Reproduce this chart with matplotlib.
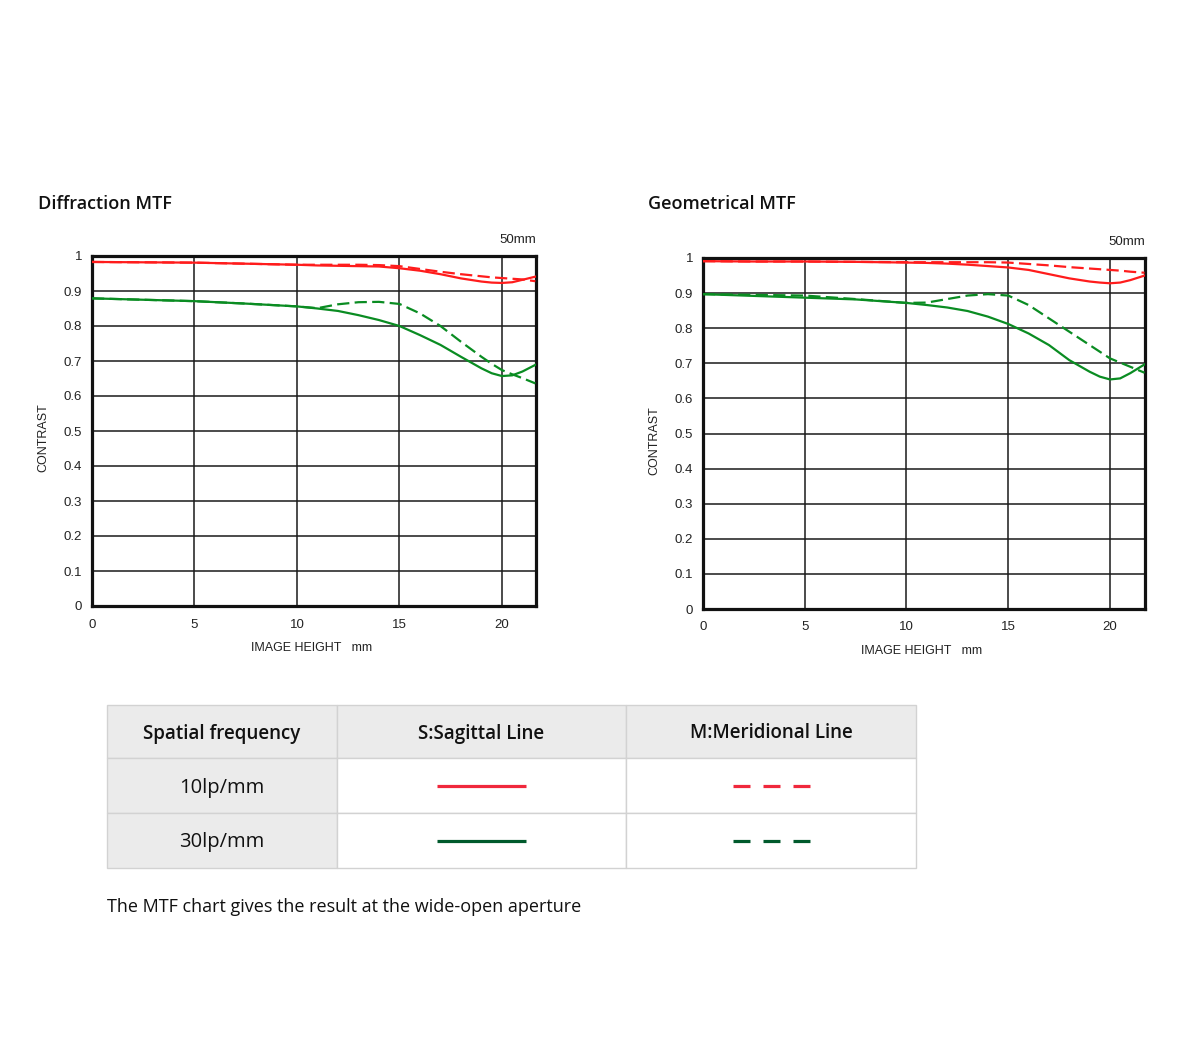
import numpy as np
import matplotlib.pyplot as plt
from matplotlib.patches import Rectangle

# image height (mm) at which the curves were read
diff_x = [0, 2.5, 5, 7.5, 10, 11, 12, 13, 14, 15, 16, 17, 18, 19, 19.5, 20, 20.5, 21, 21.63]
diff_s10 = [0.983, 0.982, 0.981, 0.978, 0.975, 0.973, 0.972, 0.971, 0.970, 0.965, 0.958, 0.948, 0.936, 0.927, 0.924, 0.923, 0.925, 0.932, 0.941]
diff_m10 = [0.983, 0.982, 0.981, 0.978, 0.975, 0.975, 0.975, 0.975, 0.974, 0.971, 0.963, 0.955, 0.948, 0.942, 0.939, 0.937, 0.935, 0.933, 0.928]
diff_s30 = [0.879, 0.875, 0.871, 0.864, 0.856, 0.850, 0.843, 0.831, 0.817, 0.800, 0.774, 0.746, 0.712, 0.679, 0.665, 0.657, 0.659, 0.670, 0.689]
diff_m30 = [0.879, 0.875, 0.871, 0.864, 0.856, 0.851, 0.862, 0.868, 0.869, 0.863, 0.836, 0.800, 0.755, 0.712, 0.692, 0.674, 0.662, 0.651, 0.636]

geo_x = [0, 2.5, 5, 7.5, 10, 11, 12, 13, 14, 15, 16, 17, 18, 19, 19.5, 20, 20.5, 21, 21.7]
geo_s10 = [0.991, 0.990, 0.990, 0.989, 0.987, 0.986, 0.984, 0.981, 0.977, 0.973, 0.966, 0.954, 0.942, 0.933, 0.930, 0.928, 0.930, 0.937, 0.950]
geo_m10 = [0.991, 0.990, 0.990, 0.989, 0.988, 0.988, 0.988, 0.988, 0.988, 0.987, 0.983, 0.979, 0.974, 0.970, 0.968, 0.966, 0.964, 0.961, 0.958]
geo_s30 = [0.897, 0.892, 0.887, 0.882, 0.872, 0.866, 0.859, 0.849, 0.833, 0.812, 0.785, 0.752, 0.709, 0.676, 0.662, 0.654, 0.657, 0.672, 0.697]
geo_m30 = [0.897, 0.895, 0.893, 0.883, 0.872, 0.873, 0.883, 0.893, 0.897, 0.893, 0.866, 0.828, 0.790, 0.752, 0.733, 0.714, 0.702, 0.690, 0.673]

y_ticks = [0, 0.1, 0.2, 0.3, 0.4, 0.5, 0.6, 0.7, 0.8, 0.9, 1]
y_labels = ['0', '0.1', '0.2', '0.3', '0.4', '0.5', '0.6', '0.7', '0.8', '0.9', '1']
x_ticks = [0, 5, 10, 15, 20]

table_header = ['Spatial frequency', 'S:Sagittal Line', 'M:Meridional Line']
table_rows = ['10lp/mm', '30lp/mm']
caption = 'The MTF chart gives the result at the wide-open aperture'

RED = '#ff1c1c'
GREEN = '#0a8c22'
W, H = 1200, 1051

fig = plt.figure(figsize=(12, 10.51), dpi=100)
# background axes in pixel coordinates for titles and the legend table
bg = fig.add_axes([0, 0, 1, 1])
bg.set_xlim(0, W)
bg.set_ylim(H, 0)
bg.axis('off')

TXT = 'Open Sans'
LBL = 'Liberation Sans'


def mtf_panel(rect, title_xy, title, xs, s10, m10, s30, m30, xmax):
    l, t, r, b = rect
    ax = fig.add_axes([l / W, 1 - b / H, (r - l) / W, (b - t) / H])
    ax.plot(xs, s10, color=RED, lw=1.6, zorder=3)
    ax.plot(xs, m10, color=RED, lw=1.6, dashes=(5.5, 2.4), zorder=3)
    ax.plot(xs, s30, color=GREEN, lw=1.6, zorder=3)
    ax.plot(xs, m30, color=GREEN, lw=1.6, dashes=(5.5, 2.4), zorder=3)
    ax.set_xlim(0, xmax)
    ax.set_ylim(0, 1)
    ax.set_xticks(x_ticks)
    ax.set_yticks(y_ticks)
    ax.set_yticklabels(y_labels)
    ax.tick_params(length=0, labelsize=9.5, colors='#222222')
    ax.tick_params(axis='y', pad=7)
    ax.tick_params(axis='x', pad=9)
    for lab in ax.get_xticklabels() + ax.get_yticklabels():
        lab.set_fontfamily(LBL)
    ax.grid(True, color='#1a1a1a', lw=1.1)
    for sp in ax.spines.values():
        sp.set_linewidth(2.3)
        sp.set_color('#111111')
    bg.text(title_xy[0], title_xy[1], title, fontsize=13, fontfamily=TXT,
            fontweight='semibold', va='center', ha='left', color='#111111')
    bg.text(r, t - 16, '50mm', fontsize=9.5, fontfamily=LBL, ha='right', va='center', color='#222222')
    bg.text(l - 49, (t + b) / 2 + 7, 'CONTRAST', fontsize=9, fontfamily=LBL, rotation=90,
            ha='center', va='center', color='#222222')
    bg.text((l + r) / 2 - 2, b + 42, 'IMAGE HEIGHT   mm', fontsize=9, fontfamily=LBL,
            ha='center', va='center', color='#222222')
    return ax


mtf_panel((92, 256, 536, 606), (38, 204), 'Diffraction MTF',
          diff_x, diff_s10, diff_m10, diff_s30, diff_m30, 21.66)
mtf_panel((703, 258, 1145, 609), (648, 204), 'Geometrical MTF',
          geo_x, geo_s10, geo_m10, geo_s30, geo_m30, 21.72)

# legend table
col_x = [107, 337, 626, 916]
row_y = [705, 758, 813, 868]
for i in range(3):
    for j in range(3):
        fill = '#ebebeb' if (i == 0 or j == 0) else 'white'
        bg.add_patch(Rectangle((col_x[j], row_y[i]), col_x[j + 1] - col_x[j], row_y[i + 1] - row_y[i],
                               facecolor=fill, edgecolor='#d2d2d2', lw=1))
for j, h in enumerate(table_header):
    bg.text((col_x[j] + col_x[j + 1]) / 2, (row_y[0] + row_y[1]) / 2 + 2, h, fontsize=13.5,
            fontfamily=TXT, fontweight='semibold', ha='center', va='center', color='#111111')
line_cols = ['#f0283c', '#005a2c']
for i, lab in enumerate(table_rows):
    yc = (row_y[i + 1] + row_y[i + 2]) / 2
    bg.text((col_x[0] + col_x[1]) / 2, yc + 2, lab, fontsize=14.5, fontfamily=TXT,
            ha='center', va='center', color='#111111')
    bg.plot([437, 526], [yc, yc], color=line_cols[i], lw=2.3, solid_capstyle='butt')
    bg.plot([733, 810], [yc, yc], color=line_cols[i], lw=2.3, dashes=(5.32, 4.07), dash_capstyle='butt')

bg.text(107, 907, caption, fontsize=13, fontfamily=TXT, ha='left', va='center', color='#111111')

fig.savefig('out.png', dpi=100, facecolor='white')
